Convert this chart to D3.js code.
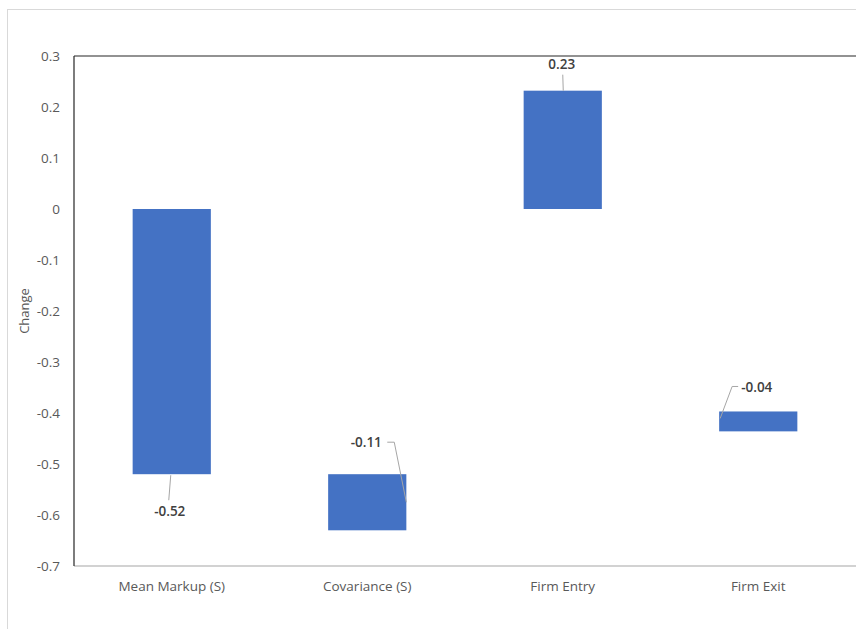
<!DOCTYPE html>
<html><head><meta charset="utf-8">
<script src="https://cdn.jsdelivr.net/npm/d3@7"></script>
<style>body{margin:0;background:#fff;} text{font-family:"Open Sans",sans-serif;}</style>
</head><body>
<svg id="c" width="856" height="629"></svg>
<script>
const categories = ["Mean Markup (S)", "Covariance (S)", "Firm Entry", "Firm Exit"];
const barStarts = [0, -0.52, 0, -0.397];
const barValues = [-0.52, -0.11, 0.232, -0.039];
const valueLabels = ["-0.52", "-0.11", "0.23", "-0.04"];
const yTicks = [0.3, 0.2, 0.1, 0, -0.1, -0.2, -0.3, -0.4, -0.5, -0.6, -0.7];
const yTickLabels = ["0.3", "0.2", "0.1", "0", "-0.1", "-0.2", "-0.3", "-0.4", "-0.5", "-0.6", "-0.7"];

const svg = d3.select("#c");
const m = {l: 74, t: 56, r: 856, b: 566};

// outer chart border
svg.append("rect").attr("x", 7.5).attr("y", 9.5).attr("width", 900).attr("height", 700)
  .attr("fill", "none").attr("stroke", "#d9d9d9");

const x = d3.scaleBand().domain(categories).range([m.l, m.r]).paddingInner(0.6).paddingOuter(0.3);
const y = d3.scaleLinear().domain([-0.7, 0.3]).range([m.b, m.t]);

// y axis labels
const ya = svg.append("g").attr("transform", `translate(${m.l},0)`)
  .call(d3.axisLeft(y).tickValues(yTicks).tickSize(0).tickPadding(14).tickFormat((d, i) => yTickLabels[i]));
ya.select(".domain").remove();
ya.selectAll("text").attr("fill", "#595959").attr("font-size", 13.5);

// x axis labels
const xa = svg.append("g").attr("transform", `translate(0,${m.b})`)
  .call(d3.axisBottom(x).tickSize(0).tickPadding(15));
xa.select(".domain").remove();
xa.selectAll("text").attr("fill", "#595959").attr("font-size", 13.5);

// plot frame lines
svg.append("line").attr("x1", m.l).attr("x2", m.r).attr("y1", y(-0.7)).attr("y2", y(-0.7)).attr("stroke", "#a6a6a6").attr("stroke-width", 1.2);
svg.append("line").attr("x1", m.l).attr("x2", m.r).attr("y1", y(0.3)).attr("y2", y(0.3)).attr("stroke", "#262626").attr("stroke-width", 1.2);
svg.append("line").attr("x1", m.l).attr("x2", m.l).attr("y1", y(0.3)).attr("y2", y(-0.7)).attr("stroke", "#262626").attr("stroke-width", 1.2);

// axis title
svg.append("text").attr("transform", `translate(29,${y(-0.2)}) rotate(-90)`)
  .attr("text-anchor", "middle").attr("font-size", 13).attr("fill", "#595959").text("Change");

// bars
const data = categories.map((c, i) => ({c, s: barStarts[i], v: barValues[i], lab: valueLabels[i]}));
svg.selectAll("rect.bar").data(data).enter().append("rect").attr("class", "bar")
  .attr("x", d => x(d.c)).attr("width", x.bandwidth())
  .attr("y", d => y(Math.max(d.s, d.s + d.v)))
  .attr("height", d => Math.abs(y(d.s) - y(d.s + d.v)))
  .attr("fill", "#4472C4");

// labels with leader lines
const lg = svg.append("g");
function label(i, tx, ty, anchor, pts) {
  lg.append("path").attr("d", d3.line()(pts)).attr("fill", "none").attr("stroke", "#a6a6a6").attr("stroke-width", 1);
  lg.append("text").attr("x", tx).attr("y", ty).attr("text-anchor", anchor)
    .attr("font-size", 13.5).attr("font-weight", 600).attr("fill", "#404040").text(valueLabels[i]);
}
const cx = i => x(categories[i]) + x.bandwidth() / 2;
const end = i => y(barStarts[i] + barValues[i]);
// Mean Markup
label(0, cx(0) - 2, end(0) + 42, "middle", [[cx(0) - 1, end(0) + 1], [cx(0) - 3, end(0) + 26]]);
// Covariance
const r1 = x(categories[1]) + x.bandwidth();
label(1, cx(1) - 1, y(-0.52) - 27, "middle", [[cx(1) + 20, y(-0.52) - 32], [cx(1) + 27, y(-0.52) - 32], [r1, (y(-0.52) + y(-0.63)) / 2]]);
// Firm Entry
label(2, cx(2) - 1, end(2) - 22, "middle", [[cx(2), end(2) - 16], [cx(2) + 0.5, end(2)]]);
// Firm Exit
const l3 = x(categories[3]);
label(3, l3 + 22, y(barStarts[3]) - 19, "start", [[l3 + 19, y(barStarts[3]) - 25], [l3 + 13, y(barStarts[3]) - 25], [l3 + 1, y(barStarts[3]) + 7]]);
</script>
</body></html>
